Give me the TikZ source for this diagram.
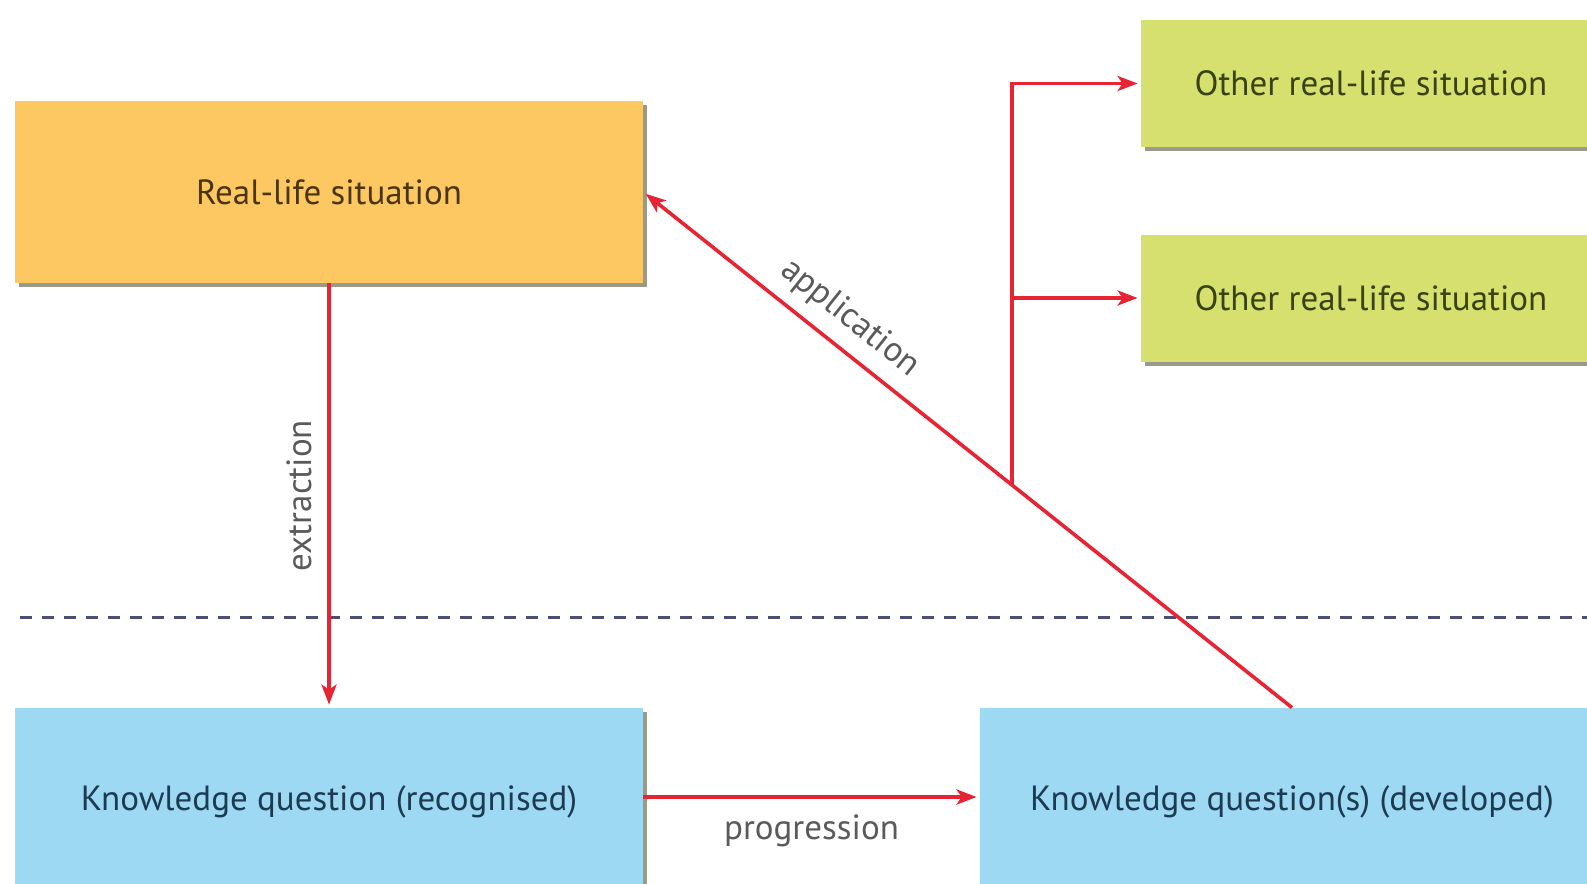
\documentclass[tikz,border=0pt]{standalone}
\usepackage{fontspec}
\setmainfont{PT Sans}
\usetikzlibrary{calc,shadows,arrows.meta}

\definecolor{orangebox}{HTML}{FDC862}
\definecolor{greenbox}{HTML}{D5E06E}
\definecolor{bluebox}{HTML}{9ED9F3}
\definecolor{orangetext}{HTML}{4A3510}
\definecolor{greentext}{HTML}{3A4212}
\definecolor{bluetext}{HTML}{1C3A52}
\definecolor{arrowred}{HTML}{E62433}
\definecolor{dashblue}{HTML}{4B4F72}
\definecolor{labelgrey}{HTML}{5A5A5A}
\definecolor{shadowgrey}{HTML}{9A9A8A}

\tikzset{
  box/.style={rectangle, inner sep=0pt, font=\fontsize{17.5}{20}\selectfont,
    drop shadow={shadow xshift=2pt, shadow yshift=-2pt, fill=shadowgrey, opacity=1}},
  flow/.style={draw=arrowred, line width=1.8pt, shorten >=1.5pt,
    -{Stealth[length=10pt,width=7.5pt,inset=2.5pt]}},
  lbl/.style={text=labelgrey, font=\fontsize{17.5}{20}\selectfont, inner sep=0pt},
}

\begin{document}
\begin{tikzpicture}[x=0.5pt, y=-0.5pt]
  \useasboundingbox (0,0) rectangle (1587,884);
  \clip (0,0) rectangle (1587,884);

  % separator between situations and knowledge questions
  \draw[dashblue, line width=1.5pt, dash pattern=on 6pt off 5pt] (20,617) -- (1587,617);

  % boxes
  \node[box, fill=orangebox, text=orangetext, minimum width=314pt, minimum height=91pt]
    (rls) at (329,192) {Real-life situation};
  \node[box, fill=greenbox, text=greentext, minimum width=230pt, minimum height=63.5pt]
    (orls1) at (1371,83.5) {Other real-life situation};
  \node[box, fill=greenbox, text=greentext, minimum width=230pt, minimum height=63.5pt]
    (orls2) at (1371,298) {Other real-life situation};
  \node[box, fill=bluebox, text=bluetext, minimum width=314pt, minimum height=94pt]
    (kqr) at (329,802) {Knowledge question (recognised)};
  \node[box, fill=bluebox, text=bluetext, minimum width=312pt, minimum height=94pt]
    (kqd) at (1292,802) {Knowledge question(s) (developed)};

  % extraction
  \draw[flow] (rls.south) -- node[lbl, midway, xshift=-15pt, rotate=90] {extraction} (kqr.north);

  % progression
  \draw[flow] ([yshift=2.5pt]kqr.east) -- node[lbl, midway, below=8pt] {progression}
    ([yshift=2.5pt]kqd.west);

  % application
  \draw[flow] (kqd.north) -- node[lbl, pos=0.71, sloped, above=6pt] {application} (rls.east);

  % branch to other situations
  \coordinate (br) at ($(kqd.north)!0.4314!(rls.east)$);
  \draw[flow] (br) |- (orls1.west);
  \draw[flow] (br |- orls2.west) -- (orls2.west);
\end{tikzpicture}
\end{document}
